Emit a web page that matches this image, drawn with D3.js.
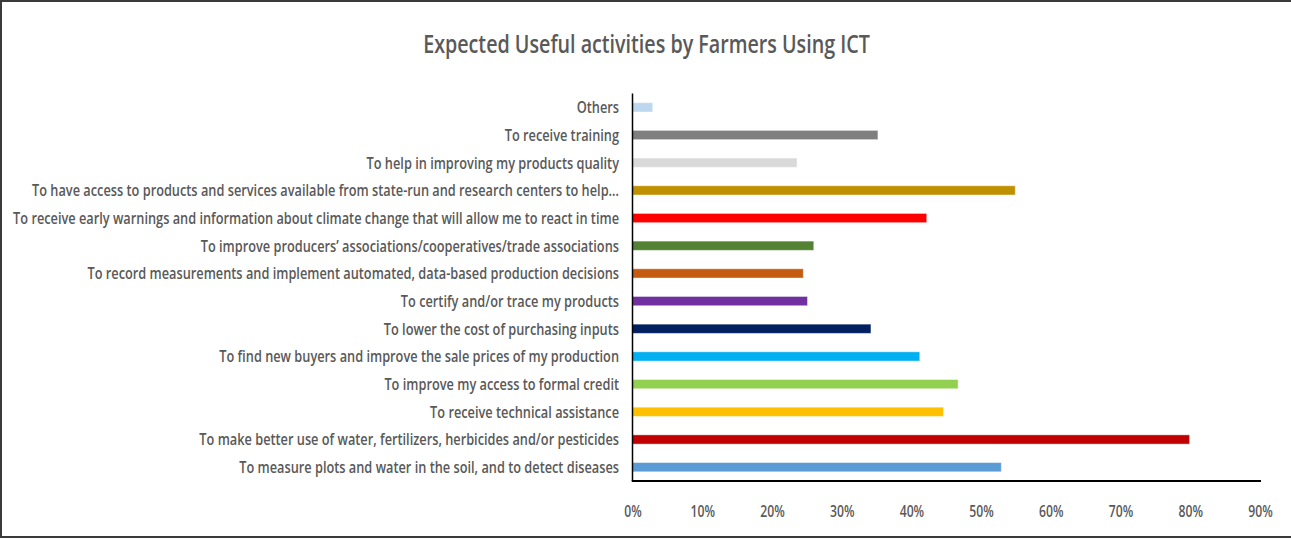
<!DOCTYPE html>
<html>
<head>
<meta charset="utf-8">
<script src="https://cdn.jsdelivr.net/npm/d3@7"></script>
<style>
  html, body { margin: 0; padding: 0; background: #fff; }
  svg { display: block; }
</style>
</head>
<body>
<svg id="chart" width="1291" height="539"></svg>
<script>
// Activities, listed top to bottom as shown in the chart
const categories = [
  "Others",
  "To receive training",
  "To help in improving my products quality",
  "To have access to products and services available from state-run and research centers to help…",
  "To receive early warnings and information about climate change that will allow me to react in time",
  "To improve producers’ associations/cooperatives/trade associations",
  "To record measurements and implement automated, data-based production decisions",
  "To certify and/or trace my products",
  "To lower the cost of purchasing inputs",
  "To find new buyers and improve the sale prices of my production",
  "To improve my access to formal credit",
  "To receive technical assistance",
  "To make better use of water, fertilizers, herbicides and/or pesticides",
  "To measure plots and water in the soil, and to detect diseases"
];

// Share of farmers (fraction) for each activity
const shares = [0.029, 0.352, 0.236, 0.549, 0.422, 0.260, 0.245, 0.251, 0.342, 0.412, 0.467, 0.446, 0.799, 0.529];

// Bar fill per activity
const barColors = [
  "#BDD7EE", "#7F7F7F", "#D9D9D9", "#BF9000", "#FF0000", "#548235", "#C55A11",
  "#7030A0", "#002060", "#00B0F0", "#92D050", "#FFC000", "#C00000", "#5B9BD5"
];

const tickValues = [0, 0.1, 0.2, 0.3, 0.4, 0.5, 0.6, 0.7, 0.8, 0.9];

const titleText = "Expected Useful activities by Farmers Using ICT";

const svg = d3.select("#chart");
const W = 1291, H = 539;
const textColor = "#595959";
const font = "'Open Sans', 'Noto Sans', sans-serif";

// Outer frame
svg.append("rect")
  .attr("x", 1).attr("y", 1)
  .attr("width", W + 20).attr("height", H - 3)
  .attr("fill", "#fff")
  .attr("stroke", "#3a3a3a")
  .attr("stroke-width", 2);

const plot = { left: 632.5, right: 1260, top: 93.5, bottom: 481 };

const x = d3.scaleLinear().domain([0, 0.9]).range([plot.left, plot.right]);
const y = d3.scaleBand().domain(categories).range([plot.top, plot.bottom]).paddingInner(0.665).paddingOuter(0.3325);

// Title, condensed to fit its width
const title = svg.append("text")
  .attr("font-family", font)
  .attr("font-size", 26)
  .attr("font-weight", 600)
  .attr("fill", textColor)
  .attr("text-anchor", "middle")
  .text(titleText);
{
  const w = title.node().getComputedTextLength();
  const sx = 447 / w;
  title.attr("transform", `translate(646.5,53) scale(${sx},1)`);
}

// Bars
svg.append("g")
  .selectAll("rect")
  .data(categories)
  .join("rect")
  .attr("x", x(0))
  .attr("y", d => y(d))
  .attr("width", (d, i) => x(shares[i]) - x(0))
  .attr("height", y.bandwidth())
  .attr("fill", (d, i) => barColors[i])
  .attr("stroke", "#fff")
  .attr("stroke-opacity", 0.45)
  .attr("stroke-width", 1);

// Category labels, horizontally condensed as a group
const labelG = svg.append("g");
const labels = labelG.selectAll("text")
  .data(categories)
  .join("text")
  .attr("font-family", font)
  .attr("font-size", 16.5)
  .attr("font-weight", 600)
  .attr("fill", textColor)
  .attr("text-anchor", "end")
  .attr("x", 0)
  .attr("y", d => y(d) + y.bandwidth() / 2)
  .attr("dy", "0.36em")
  .text(d => d);
{
  let maxW = 0;
  labels.each(function () { maxW = Math.max(maxW, this.getComputedTextLength()); });
  const sx = 606 / maxW;
  labelG.attr("transform", `translate(619,0) scale(${sx},1)`);
}

// X axis tick labels
const xAxis = d3.axisBottom(x)
  .tickValues(tickValues)
  .tickFormat(d3.format(".0%"))
  .tickSize(0)
  .tickPadding(0);
const axG = svg.append("g").attr("transform", `translate(0,${plot.bottom})`).call(xAxis);
axG.select(".domain").remove();
axG.selectAll(".tick text")
  .attr("font-family", font)
  .attr("font-size", 16.5)
  .attr("font-weight", 600)
  .attr("fill", textColor)
  .attr("x", 0)
  .attr("y", 36)
  .attr("dy", 0)
  .attr("transform", "scale(0.74,1)");

// Axis lines
svg.append("line")
  .attr("x1", plot.left).attr("x2", plot.left)
  .attr("y1", plot.top).attr("y2", plot.bottom)
  .attr("stroke", "#000").attr("stroke-width", 1.5);
svg.append("line")
  .attr("x1", plot.left - 0.75).attr("x2", plot.right + 1)
  .attr("y1", plot.bottom).attr("y2", plot.bottom)
  .attr("stroke", "#000").attr("stroke-width", 2);
</script>
</body>
</html>
